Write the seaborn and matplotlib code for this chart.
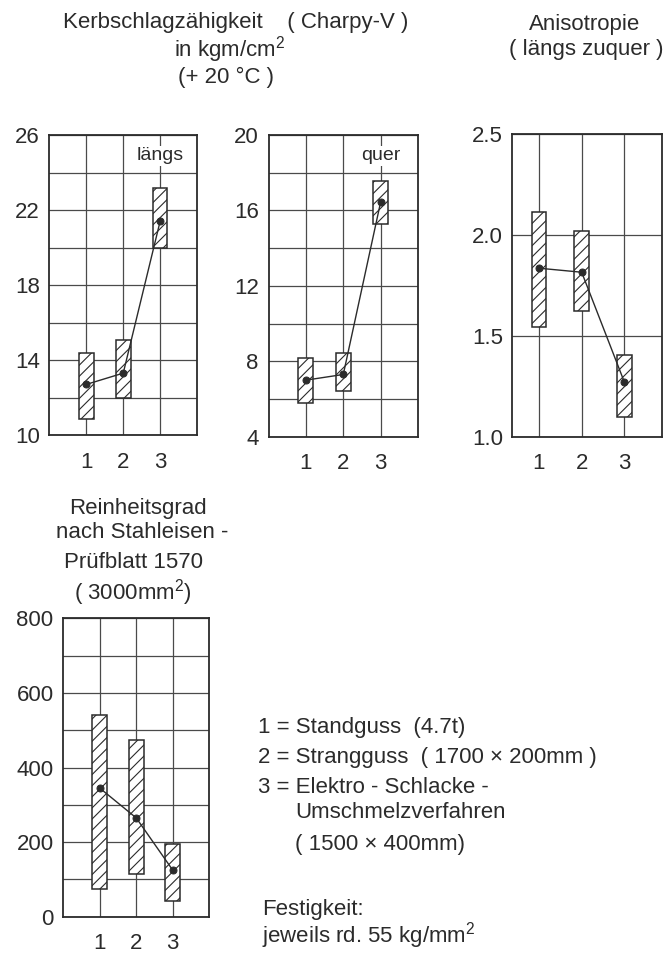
import numpy as np
import matplotlib
matplotlib.use("Agg")
import matplotlib.pyplot as plt
import seaborn as sns

# data (1 = Standguss, 2 = Strangguss, 3 = ESU)
cats = [1, 2, 3]

laengs_lo = [10.85, 12.0, 20.0]
laengs_hi = [14.35, 15.05, 23.2]
laengs_mean = [12.7, 13.3, 21.4]

quer_lo = [5.8, 6.45, 15.3]
quer_hi = [8.15, 8.45, 17.55]
quer_mean = [7.0, 7.3, 16.45]

aniso_lo = [1.545, 1.625, 1.10]
aniso_hi = [2.115, 2.02, 1.405]
aniso_mean = [1.835, 1.815, 1.27]

rein_lo = [75, 115, 43]
rein_hi = [540, 475, 195]
rein_mean = [345, 265, 125]

ink = '#2b2b2b'

sns.set_style("white")
plt.rcParams['font.family'] = ['Liberation Sans', 'DejaVu Sans']
plt.rcParams['mathtext.default'] = 'regular'
plt.rcParams['hatch.linewidth'] = 0.8
plt.rcParams['hatch.color'] = ink


def draw_panel(ax, lo, hi, mean, ylim, yticks, ylabels, ystep, xlim, width):
    lo = np.array(lo)
    hi = np.array(hi)
    ax.bar(cats, hi - lo, bottom=lo, width=width, facecolor='white',
           edgecolor=ink, linewidth=1.1, hatch='///', zorder=2)
    sns.lineplot(x=cats, y=mean, ax=ax, color=ink, linewidth=1.0,
                 marker='o', markersize=5, markeredgecolor=ink, zorder=3)
    ax.set_xlim(*xlim)
    ax.set_ylim(*ylim)
    ax.set_xticks(cats)
    ax.set_xticklabels([str(c) for c in cats])
    ax.set_yticks(yticks)
    ax.set_yticklabels(ylabels)
    ax.set_yticks(np.arange(ylim[0], ylim[1] + ystep / 2, ystep), minor=True)
    ax.grid(True, which='both', color='#4a4a4a', linewidth=0.9)
    ax.grid(False, which='minor', axis='x')
    ax.set_axisbelow(True)
    ax.tick_params(axis='both', which='both', length=0, labelsize=16, colors=ink)
    ax.tick_params(axis='y', pad=7)
    ax.tick_params(axis='x', pad=12)
    for s in ax.spines.values():
        s.set_color(ink)
        s.set_linewidth(1.3)


fig = plt.figure(figsize=(6.66, 9.55), dpi=100)

ax1 = fig.add_axes([0.0743, 0.5445, 0.2215, 0.3141])
draw_panel(ax1, laengs_lo, laengs_hi, laengs_mean, (10, 26),
           [10, 14, 18, 22, 26], ['10', '14', '18', '22', '26'], 2, (0, 4), 0.4)
ax1.text(3.0, 24.9, 'längs', ha='center', va='center', fontsize=14, color=ink,
         bbox=dict(facecolor='white', edgecolor='none', pad=1), zorder=4)

ax2 = fig.add_axes([0.4032, 0.5427, 0.2245, 0.316])
draw_panel(ax2, quer_lo, quer_hi, quer_mean, (4, 20),
           [4, 8, 12, 16, 20], ['4', '8', '12', '16', '20'], 2, (0, 4), 0.4)
ax2.text(3.0, 18.9, 'quer', ha='center', va='center', fontsize=14, color=ink,
         bbox=dict(facecolor='white', edgecolor='none', pad=1), zorder=4)

ax3 = fig.add_axes([0.7695, 0.5427, 0.2245, 0.317])
draw_panel(ax3, aniso_lo, aniso_hi, aniso_mean, (1.0, 2.5),
           [1.0, 1.5, 2.0, 2.5], ['1.0', '1.5', '2.0', '2.5'], 0.5, (0.38, 3.88), 0.34)

ax4 = fig.add_axes([0.095, 0.040, 0.2192, 0.3125])
draw_panel(ax4, rein_lo, rein_hi, rein_mean, (0, 800),
           [0, 200, 400, 600, 800], ['0', '200', '400', '600', '800'], 100, (0, 4), 0.4)

# titles
tkw = dict(ha='center', va='center', fontsize=16, color=ink)
fig.text(0.354, 0.976, 'Kerbschlagzähigkeit    ( Charpy-V )', **tkw)
fig.text(0.345, 0.948, 'in kgm/cm$^{2}$', **tkw)
fig.text(0.339, 0.919, '(+ 20 °C )', **tkw)
fig.text(0.878, 0.974, 'Anisotropie', **tkw)
fig.text(0.880, 0.948, '( längs zuquer )', **tkw)

fig.text(0.207, 0.468, 'Reinheitsgrad', **tkw)
fig.text(0.213, 0.442, 'nach Stahleisen -', **tkw)
fig.text(0.200, 0.4115, 'Prüfblatt 1570', **tkw)
fig.text(0.200, 0.380, '( 3000mm$^{2}$)', **tkw)

# legend / notes
lkw = dict(ha='left', va='center', fontsize=16, color=ink)
fig.text(0.387, 0.2387, '1 = Standguss  (4.7t)', **lkw)
fig.text(0.387, 0.2063, '2 = Strangguss  ( 1700 × 200mm )', **lkw)
fig.text(0.387, 0.1759, '3 = Elektro - Schlacke -', **lkw)
fig.text(0.443, 0.1487, 'Umschmelzverfahren', **lkw)
fig.text(0.443, 0.1152, '( 1500 × 400mm)', **lkw)
fig.text(0.393, 0.048, 'Festigkeit:', **lkw)
fig.text(0.393, 0.020, 'jeweils rd. 55 kg/mm$^{2}$', **lkw)

fig.savefig('out.png', dpi=100, facecolor='white')
